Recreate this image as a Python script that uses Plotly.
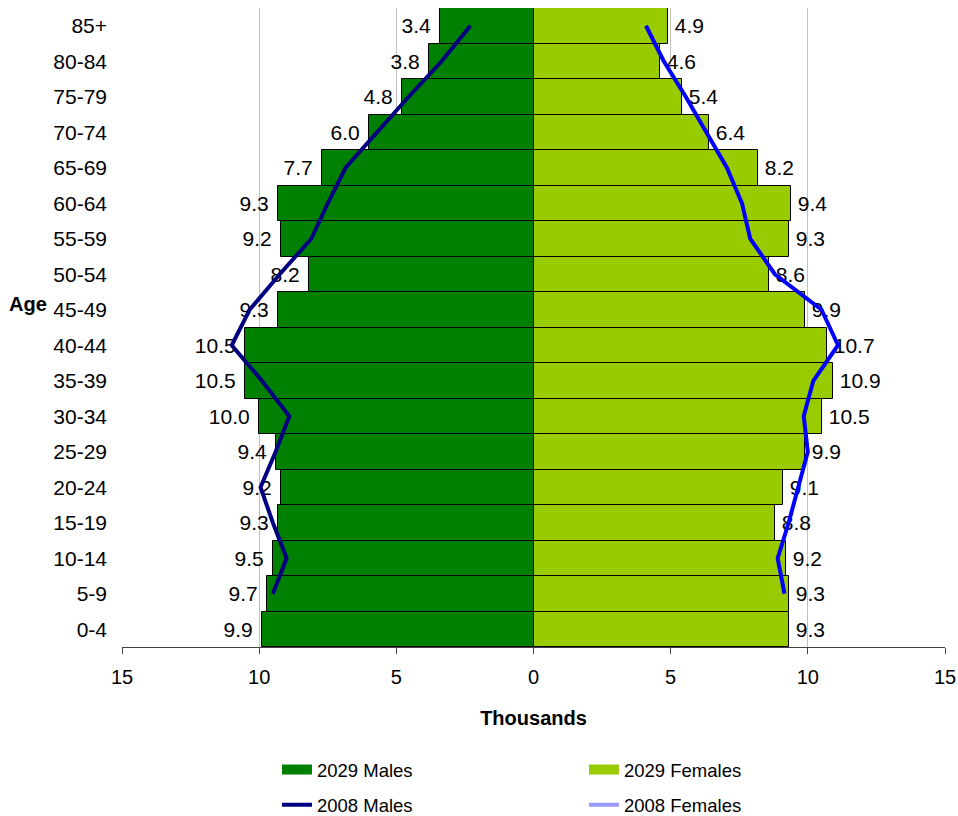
import plotly.graph_objects as go

ages = ["0-4", "5-9", "10-14", "15-19", "20-24", "25-29", "30-34", "35-39", "40-44",
        "45-49", "50-54", "55-59", "60-64", "65-69", "70-74", "75-79", "80-84", "85+"]
males_2029 = [9.9, 9.7, 9.5, 9.3, 9.2, 9.4, 10.0, 10.5, 10.5, 9.3, 8.2, 9.2, 9.3, 7.7, 6.0, 4.8, 3.8, 3.4]
females_2029 = [9.3, 9.3, 9.2, 8.8, 9.1, 9.9, 10.5, 10.9, 10.7, 9.9, 8.6, 9.3, 9.4, 8.2, 6.4, 5.4, 4.6, 4.9]
males_2008 = [None, 9.5, 9.0, 9.5, 9.95, 9.4, 8.9, 9.9, 11.0, 10.35, 9.25, 8.1, 7.5, 6.85, 5.7, 4.55, 3.35, 2.3]
females_2008 = [None, 9.15, 8.9, 9.3, 9.65, 10.0, 9.85, 10.2, 11.1, 10.5, 8.8, 7.9, 7.6, 7.05, 6.3, 5.55, 4.75, 4.1]
x_ticks = [-15, -10, -5, 0, 5, 10, 15]
x_tick_labels = ["15", "10", "5", "0", "5", "10", "15"]

FONT = "Liberation Sans, Arial, sans-serif"

fig = go.Figure()
# 2029 bars (legend swatches provided by linked wide legend entries)
fig.add_trace(go.Bar(
    y=ages, x=[-v for v in males_2029], orientation="h", name="2029 Males",
    marker=dict(color="#008000", line=dict(color="#000000", width=1)),
    text=[f"{v:.1f}\u00A0" for v in males_2029], textposition="outside",
    textfont=dict(size=21, color="#000000", family=FONT), constraintext="none",
    cliponaxis=False, legendgroup="m2029", showlegend=False, hoverinfo="skip"))
fig.add_trace(go.Bar(
    y=ages, x=females_2029, orientation="h", name="2029 Females",
    marker=dict(color="#99CC00", line=dict(color="#000000", width=1)),
    text=[f"\u2009{v:.1f}" for v in females_2029], textposition="outside",
    textfont=dict(size=21, color="#000000", family=FONT), constraintext="none",
    cliponaxis=False, legendgroup="f2029", showlegend=False, hoverinfo="skip"))
fig.add_trace(go.Scatter(
    y=ages, x=[(-v if v is not None else None) for v in males_2008], mode="lines",
    name="2008 Males", line=dict(color="#000080", width=4), legend="legend2"))
fig.add_trace(go.Scatter(
    y=ages, x=females_2008, mode="lines", name="2008 Females",
    line=dict(color="#0000FF", width=4), legendgroup="f2008", showlegend=False))

# legend entries
fig.add_trace(go.Scatter(y=[None], x=[None], mode="lines", name="2029 Males",
                         line=dict(color="#008000", width=13), legendgroup="m2029", legend="legend"))
fig.add_trace(go.Scatter(y=[None], x=[None], mode="lines", name="2029 Females",
                         line=dict(color="#99CC00", width=13), legendgroup="f2029", legend="legend"))
fig.add_trace(go.Scatter(y=[None], x=[None], mode="lines", name="2008 Females",
                         line=dict(color="#9999FF", width=4), legendgroup="f2008", legend="legend2"))

fig.update_layout(
    width=958, height=816,
    margin=dict(l=122, r=13, t=8, b=169, autoexpand=False),
    paper_bgcolor="white", plot_bgcolor="white",
    font=dict(family=FONT, size=20, color="#000000"),
    barmode="overlay", bargap=0,
    showlegend=True,
    legend=dict(orientation="h", x=0.1883, y=-0.1925, xanchor="left", yanchor="middle",
                entrywidth=262, entrywidthmode="pixels", font=dict(size=18.5), traceorder="normal"),
    legend2=dict(orientation="h", x=0.1883, y=-0.2475, xanchor="left", yanchor="middle",
                 entrywidth=262, entrywidthmode="pixels", font=dict(size=18.5), traceorder="normal"),
    xaxis=dict(range=[-15, 15], tickvals=x_ticks, ticktext=x_tick_labels,
               showgrid=True, gridcolor="#C0C0C0", gridwidth=1, zeroline=False,
               showline=True, linecolor="#404040", linewidth=1,
               ticks="outside", ticklen=6, tickcolor="#404040",
               ticklabelstandoff=6,
               tickfont=dict(size=20),
               title=dict(text="Thousands", font=dict(size=20, weight="bold"), standoff=23)),
    yaxis=dict(type="category", categoryorder="array", categoryarray=ages,
               range=[-0.5, 17.5],
               showgrid=False, zeroline=False, showline=False, ticks="",
               ticklabelstandoff=14, tickfont=dict(size=21)),
    annotations=[dict(text="<b>Age</b>", xref="paper", yref="paper", x=-0.1395, y=0.537,
                      xanchor="left", yanchor="middle", showarrow=False, font=dict(size=20))],
)

fig.write_html("out.html")
